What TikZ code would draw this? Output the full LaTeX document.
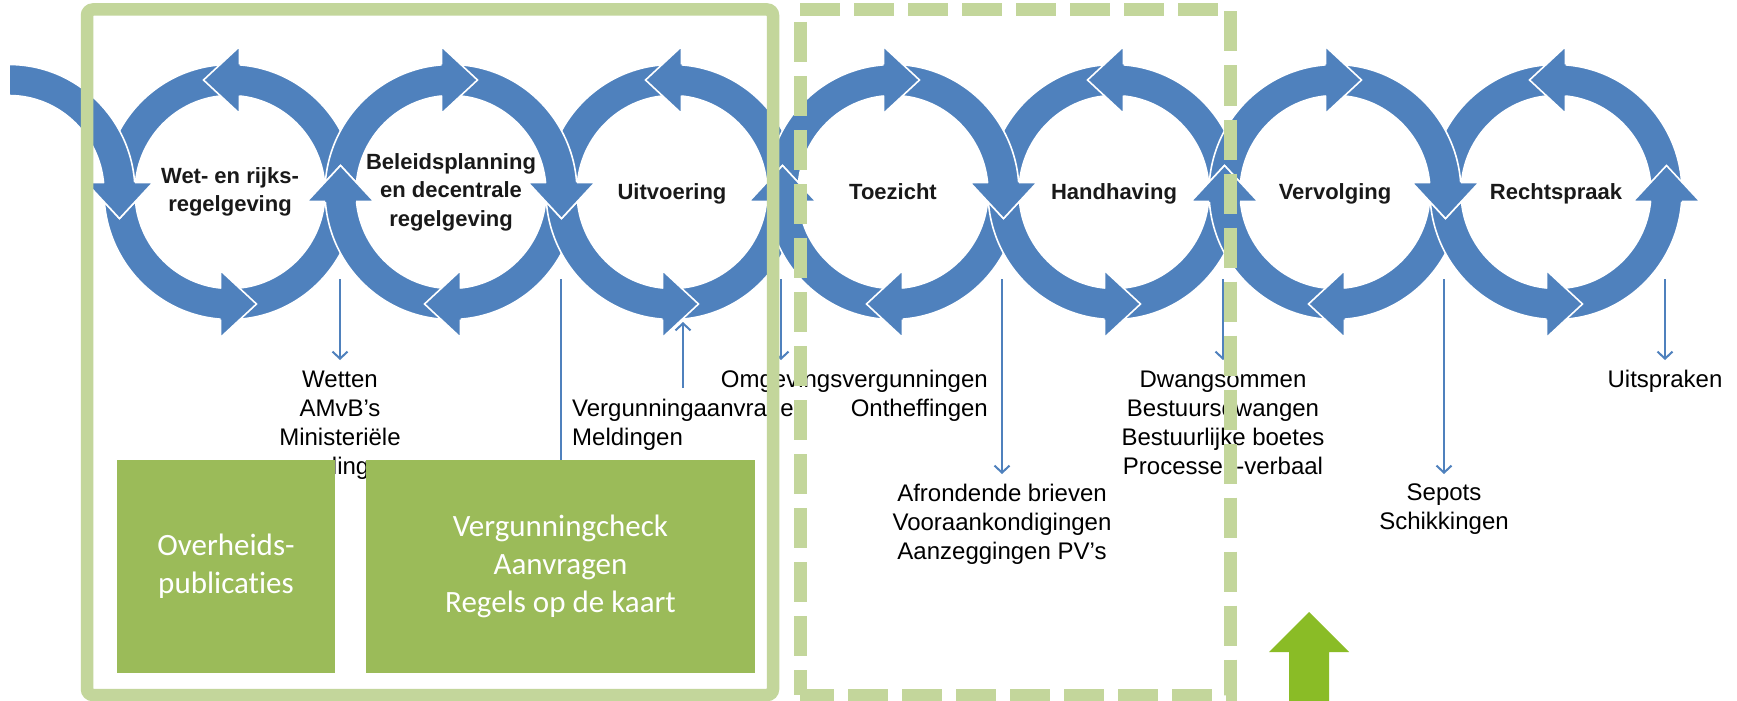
\documentclass[tikz,border=0pt]{standalone}
\usepackage{fontspec}
\setmainfont{Liberation Sans}
\newfontfamily\calibrifont[Ligatures=NoCommon]{Carlito}
\usetikzlibrary{calc,arrows.meta}
\definecolor{cblue}{RGB}{79,129,189}
\definecolor{framegreen}{RGB}{195,214,155}
\definecolor{boxgreen}{RGB}{155,187,89}
\definecolor{arrowgreen}{RGB}{138,188,38}
% one quarter of a ring (elliptic annulus sector)
\newcommand\ringpart[3]{%
  \filldraw[ringstyle] ($(#1,-192)+(#2:126pt and 127.5pt)$)
    arc[start angle=#2,end angle=#3,x radius=126pt,y radius=127.5pt]
    -- ($(#1,-192)+(#3:95pt and 96.5pt)$)
    arc[start angle=#3,end angle=#2,x radius=95pt,y radius=96.5pt] -- cycle;}
% arrow head: base midpoint (#1,#2), flow direction #3
\newcommand\ahead[3]{%
  \begin{scope}[shift={(#1,#2)},rotate=#3]
    \fill[cblue] (0,33.5) -- (36,0) -- (0,-33.5) -- cycle;
    \draw[white,line width=1.6pt] (0,15.5) -- (0,33.5) -- (36,0) -- (0,-33.5) -- (0,-15.5);
  \end{scope}}
\newcommand\ccwheads[1]{%
  \ahead{#1+9.5}{-80}{180}\ahead{#1-110.5}{-182.5}{270}%
  \ahead{#1-9.5}{-304}{0}\ahead{#1+110.5}{-201.5}{90}}
\newcommand\cwheads[1]{%
  \ahead{#1-9.5}{-80}{0}\ahead{#1+110.5}{-182.5}{270}%
  \ahead{#1+9.5}{-304}{180}\ahead{#1-110.5}{-201.5}{90}}
\begin{document}
\begin{tikzpicture}[x=1pt,y=1pt,
  ringstyle/.style={fill=cblue,draw=white,line width=1.6pt},
  thinarrow/.style={draw=cblue,line width=2pt,-{Straight Barb[length=7pt,width=15pt]}},
  thinline/.style={draw=cblue,line width=2pt},
  lbl/.style={font=\bfseries\fontsize{22pt}{28.6pt}\selectfont,align=center,inner sep=0pt,text=black!90},
  txt/.style={font=\fontsize{24pt}{29pt}\selectfont,inner sep=0pt,text=black},
  gbox/.style={fill=boxgreen,text=white,font=\calibrifont\fontsize{31pt}{38pt}\selectfont,align=center,inner sep=0pt},
  solidframe/.style={draw=framegreen,line width=12.5pt,rounded corners=6pt},
  dashframe/.style={draw=framegreen,line width=13pt,dash pattern=on 40pt off 14pt}]
\useasboundingbox (0,0) rectangle (1737,-701);
\fill[white] (0,0) rectangle (1737,-701);
% ---- ring bodies (order gives the crossings) ----
\foreach \c in {230,672,1114,1556} {\ringpart{\c}{268.1}{358.1}}
\foreach \c in {451,893,1335} {\ringpart{\c}{1.9}{-88.1}}
\foreach \c in {230,672,1114,1556} {\ringpart{\c}{178.1}{268.1}}
\foreach \c in {451,893,1335} {\ringpart{\c}{271.9}{181.9}}
\foreach \c in {230,672,1114,1556} {\ringpart{\c}{-1.9}{88.1}\ringpart{\c}{88.1}{178.1}}
\ringpart{9}{90}{1.9}
\foreach \c in {451,893,1335} {\ringpart{\c}{91.9}{1.9}\ringpart{\c}{181.9}{91.9}}
% ---- arrow heads ----
\foreach \c in {230,672,1114,1556} {\ccwheads{\c}}
\foreach \c in {451,893,1335} {\cwheads{\c}}
\ahead{119.5}{-182.5}{270}
% ---- circle labels ----
\node[lbl] (l1) at (230,-192) {Wet- en rijks-\\regelgeving};
\node[lbl] (l2) at (451,-192) {Beleidsplanning\\en decentrale\\regelgeving};
\node[lbl,anchor=base] (l3) at (672,-199.5) {Uitvoering};
\node[lbl,anchor=base] (l4) at (893,-199.5) {Toezicht};
\node[lbl,anchor=base] (l5) at (1114,-199.5) {Handhaving};
\node[lbl,anchor=base] (l6) at (1335,-199.5) {Vervolging};
\node[lbl,anchor=base] (l7) at (1556,-199.5) {Rechtspraak};
% ---- output texts ----
\node[txt,align=center,anchor=north] (wetten) at (340,-370.3) {Wetten\\AMvB’s\\Ministeriële\\regelingen};
\node[txt,align=right,anchor=north east] (omgev) at (988,-370.3) {Omgevingsvergunningen\\Ontheffingen};
\node[txt,align=left,anchor=north west] (aanvr) at (572,-399.3) {Vergunningaanvragen\\Meldingen};
\node[txt,align=center,anchor=north] (afrond) at (1002,-484) {Afrondende brieven\\Vooraankondigingen\\Aanzeggingen PV’s};
\node[txt,align=center,anchor=north] (dwang) at (1223,-370.3) {Dwangsommen\\Bestuursdwangen\\Bestuurlijke boetes\\Processen-verbaal};
\node[txt,align=center,anchor=north] (sepots) at (1444,-484) {Sepots\\Schikkingen};
\node[txt,align=center,anchor=north] (uitspr) at (1665,-370.3) {Uitspraken};
% ---- thin connectors ----
\coordinate (s1) at (340,-279);   \coordinate (e1) at (340,-360);
\coordinate (s2) at (560.5,-279);
\coordinate (s3) at (781,-279);   \coordinate (e3) at (781,-360);
\coordinate (s4) at (1002,-279);  \coordinate (e4) at (1002,-474);
\coordinate (s5) at (1223,-279);  \coordinate (e5) at (1223,-360);
\coordinate (s6) at (1444,-279);  \coordinate (e6) at (1444,-474);
\coordinate (s7) at (1665,-279);  \coordinate (e7) at (1665,-360);
\coordinate (u1) at (683,-388);   \coordinate (u2) at (683,-322);
\draw[thinarrow] (s1) -- (e1);
\draw[thinarrow] (s3) -- (e3);
\draw[thinarrow] (s4) -- (e4);
\draw[thinarrow] (s5) -- (e5);
\draw[thinarrow] (s6) -- (e6);
\draw[thinarrow] (s7) -- (e7);
\draw[thinarrow] (u1) -- (u2);
% ---- green boxes ----
\node[gbox,minimum width=218pt,minimum height=213pt] (box1) at (226,-566.5) {Overheids-\\publicaties};
\node[gbox,minimum width=389pt,minimum height=213pt] (box2) at (560.5,-566.5) {Vergunningcheck\\Aanvragen\\Regels op de kaart};
\draw[thinline] (s2) -- (box2.north);
% ---- frames ----
\draw[solidframe] (87,-9.5) rectangle (773,-695);
\draw[dashframe] (800,-9.5) -- (1230,-9.5) -- (1230,-695) -- (800,-695);
\draw[dashframe] (800,-22) -- (800,-695);
% ---- big green arrow ----
\fill[arrowgreen] (1309,-612) -- (1349,-652) -- (1329,-652) -- (1329,-705) -- (1289,-705) -- (1289,-652) -- (1269,-652) -- cycle;
\end{tikzpicture}
\end{document}
